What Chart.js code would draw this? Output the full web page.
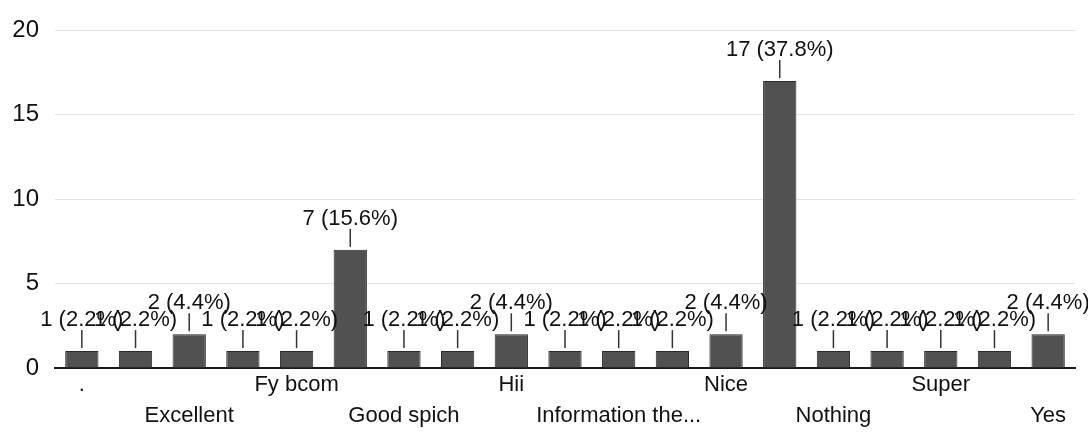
<!DOCTYPE html>
<html>
<head>
<meta charset="utf-8">
<script src="https://cdn.jsdelivr.net/npm/chart.js@4.4.1/dist/chart.umd.min.js"></script>
<style>
  html, body { margin: 0; padding: 0; background: #fff; }
  #wrap { width: 1088px; height: 438px; }
</style>
</head>
<body>
<div id="wrap"><canvas id="grafico"></canvas></div>
<script>
// respostas (ordem alfabética, como no formulário); só metade dos nomes aparece no eixo
const categorias = ['.', '', 'Excellent', '', 'Fy bcom', '', 'Good spich', '', 'Hii', '',
  'Information the...', '', 'Nice', '', 'Nothing', '', 'Super', '', 'Yes'];
const respostas = [1, 1, 2, 1, 1, 7, 1, 1, 2, 1, 1, 1, 2, 17, 1, 1, 1, 1, 2];
const ticksY = [0, 5, 10, 15, 20];

const total = respostas.reduce((a, b) => a + b, 0);
const fonte = 'Liberation Sans, Arial, sans-serif';

// rótulo "n (x%)" com tracinho em cima de cada barra
const rotulos = {
  id: 'rotulos',
  afterDatasetsDraw(chart) {
    const ctx = chart.ctx;
    const meta = chart.getDatasetMeta(0);
    ctx.save();
    ctx.font = '22px ' + fonte;
    ctx.fillStyle = '#111';
    ctx.strokeStyle = '#333';
    ctx.lineWidth = 1.5;
    ctx.textAlign = 'center';
    ctx.textBaseline = 'bottom';
    meta.data.forEach((bar, i) => {
      const v = respostas[i];
      const pct = (v / total * 100).toFixed(1);
      ctx.beginPath();
      ctx.moveTo(bar.x, bar.y - 3);
      ctx.lineTo(bar.x, bar.y - 21);
      ctx.stroke();
      ctx.fillText(`${v} (${pct}%)`, bar.x, bar.y - 20);
    });
    ctx.restore();
  }
};

new Chart(document.getElementById('grafico'), {
  type: 'bar',
  data: {
    labels: categorias,
    datasets: [{
      data: respostas,
      backgroundColor: '#515151',
      borderColor: '#2a2a2a',
      borderWidth: 1,
      barPercentage: 0.62,
      categoryPercentage: 1
    }]
  },
  options: {
    responsive: true,
    maintainAspectRatio: false,
    animation: false,
    layout: { padding: { top: 20, right: 13, left: 0, bottom: 0 } },
    plugins: {
      legend: { display: false },
      tooltip: { enabled: false }
    },
    scales: {
      x: {
        grid: { display: false, drawTicks: false },
        border: { color: '#1a1a1a', width: 2 },
        afterFit: s => { s.height = 70; },
        ticks: {
          autoSkip: false,
          maxRotation: 0,
          minRotation: 0,
          padding: 2,
          color: '#111',
          font: { family: fonte, size: 22, lineHeight: 1.4 },
          callback: (val, i) => {
            if (i % 2) return '';
            return (i / 2) % 2 ? ['', categorias[i]] : categorias[i];
          }
        }
      },
      y: {
        min: 0,
        max: 20,
        afterFit: s => { s.width = 55; },
        afterBuildTicks: s => { s.ticks = ticksY.map(v => ({ value: v })); },
        border: { display: false },
        grid: { color: '#e2e2e2', drawTicks: false },
        ticks: {
          padding: 16,
          color: '#111',
          font: { family: fonte, size: 24 }
        }
      }
    }
  },
  plugins: [rotulos]
});
</script>
</body>
</html>
